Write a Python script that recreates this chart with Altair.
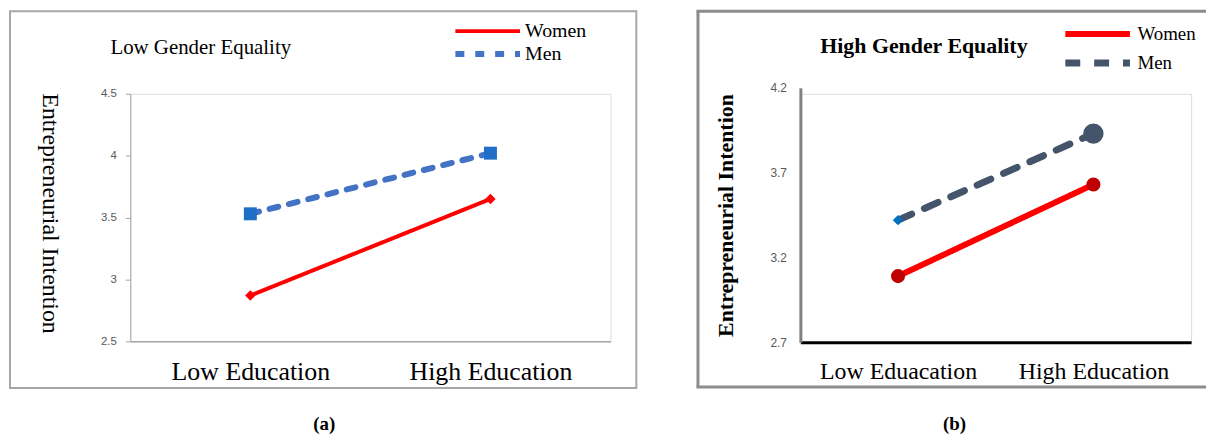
import altair as alt
import pandas as pd

# ---------------- data ----------------
gender = ["Women", "Men"]

edu_a = ["Low Education", "High Education"]
women_a = [2.87, 3.65]
men_a = [3.53, 4.02]
yticks_a = [2.5, 3, 3.5, 4, 4.5]

edu_b = ["Low Eduacation", "High Education"]
women_b = [3.09, 3.63]
men_b = [3.42, 3.93]
yticks_b = [2.7, 3.2, 3.7, 4.2]


def frame(edu, women, men):
    rows = []
    for g, vals in zip(gender, [women, men]):
        for e, v in zip(edu, vals):
            rows.append({"gender": g, "education": e, "value": v})
    return pd.DataFrame(rows)


SERIF = "Liberation Serif"
SANS = "Liberation Sans"
one = alt.Data(values=[{}])
LEG_LINE = "M-6.5,0H6.5"   # legend line symbol (65px long at size 100)


def txt(text, x, y, size, weight="normal", align="left"):
    return alt.Chart(one).mark_text(
        text=text, font=SERIF, fontSize=size, fontWeight=weight,
        align=align, baseline="middle", color="#000000"
    ).encode(x=alt.value(x), y=alt.value(y))


# ---------------- panel (a) ----------------
W_A, H_A = 483, 249
df_a = frame(edu_a, women_a, men_a)

xa = alt.X("education:N", sort=edu_a,
           scale=alt.Scale(type="point", padding=0.5, domain=edu_a),
           axis=alt.Axis(title=None, grid=False, ticks=False, tickSize=0,
                         domainColor="#A6A6A6", domainWidth=1.5,
                         labelFont=SERIF, labelFontSize=26, labelColor="#000000",
                         labelPadding=30, labelBaseline="middle", labelAngle=0))
ya = alt.Y("value:Q", scale=alt.Scale(domain=[2.5, 4.5], nice=False, zero=False),
           axis=alt.Axis(values=yticks_a, format="~g", grid=False, tickSize=5,
                         tickColor="#A6A6A6", domainColor="#A6A6A6",
                         labelFont=SANS, labelFontSize=11.5, labelColor="#595959",
                         labelPadding=9,
                         title="Entrepreneurial Intention", titleFont=SERIF,
                         titleFontSize=24, titleFontWeight="normal",
                         titleColor="#000000", titleAngle=90, titleX=-81,
                         titleY=120, titleAlign="center", titleBaseline="middle"))

leg_a = alt.Legend(title=None, orient="none", legendX=349.5, legendY=-73,
                   symbolType=LEG_LINE, symbolSize=100, symbolStrokeWidth=5,
                   labelFont=SERIF, labelFontSize=20, labelColor="#000000",
                   labelOffset=27.5, rowPadding=1, padding=0)

line_a = alt.Chart(df_a).mark_line(strokeCap="round", strokeJoin="round").encode(
    x=xa, y=ya,
    color=alt.Color("gender:N", scale=alt.Scale(domain=gender, range=["#FF0000", "#4472C4"]), legend=leg_a),
    strokeDash=alt.StrokeDash("gender:N", scale=alt.Scale(domain=gender, range=[[1, 0], [9, 11]]), legend=leg_a),
    strokeWidth=alt.StrokeWidth("gender:N", scale=alt.Scale(domain=gender, range=[4, 6]), legend=None),
)

pts_a_women = alt.Chart(df_a).transform_filter("datum.gender == 'Women'").mark_point(
    filled=True, opacity=1, shape="diamond", size=110, color="#FF0000").encode(x=xa, y=ya)
pts_a_men = alt.Chart(df_a).transform_filter("datum.gender == 'Men'").mark_point(
    filled=True, opacity=1, shape="square", size=170, color="#1F6FC6").encode(x=xa, y=ya)

border_a = alt.Chart(one).mark_rect(filled=False, stroke="#A6A6A6", strokeWidth=2).encode(
    x=alt.value(-121), x2=alt.value(509), y=alt.value(-83), y2=alt.value(296))

panel_a = alt.layer(
    border_a, line_a, pts_a_women, pts_a_men,
    txt("Low Gender Equality", -20, -46, 21),
    txt("(a)", 195, 332, 19, weight="bold", align="center"),
).properties(width=W_A, height=H_A)

# ---------------- panel (b) ----------------
W_B, H_B = 393, 250
df_b = frame(edu_b, women_b, men_b)

xb = alt.X("education:N", sort=edu_b,
           scale=alt.Scale(type="point", padding=0.5, domain=edu_b),
           axis=alt.Axis(title=None, grid=False, ticks=False, tickSize=0,
                         domainColor="#000000", domainWidth=3,
                         labelFont=SERIF, labelFontSize=24, labelColor="#000000",
                         labelPadding=29, labelBaseline="middle", labelAngle=0))
yb = alt.Y("value:Q", scale=alt.Scale(domain=[2.7, 4.2], nice=False, zero=False, range=[H_B, -6]),
           axis=alt.Axis(values=yticks_b, format=".1f", grid=False, ticks=False,
                         tickSize=0, domainColor="#808080", domainWidth=3,
                         labelFont=SANS, labelFontSize=12, labelColor="#595959",
                         labelPadding=14,
                         title="Entrepreneurial Intention", titleFont=SERIF,
                         titleFontSize=22, titleFontWeight="bold",
                         titleColor="#000000", titleAngle=270, titleX=-75,
                         titleY=122, titleAlign="center", titleBaseline="middle"))

leg_b = alt.Legend(title=None, orient="none", legendX=289.5, legendY=-69.5,
                   symbolType=LEG_LINE, symbolSize=100, symbolStrokeWidth=6,
                   labelFont=SERIF, labelFontSize=19, labelColor="#000000",
                   labelOffset=30.5, rowPadding=2, padding=0)

line_b = alt.Chart(df_b).mark_line(strokeCap="round", strokeJoin="round").encode(
    x=xb, y=yb,
    color=alt.Color("gender:N", scale=alt.Scale(domain=gender, range=["#FF0000", "#44546A"]), legend=leg_b),
    strokeDash=alt.StrokeDash("gender:N", scale=alt.Scale(domain=gender, range=[[1, 0], [15, 14]]), legend=leg_b),
    strokeWidth=alt.StrokeWidth("gender:N", scale=alt.Scale(domain=gender, range=[6, 7]), legend=None),
)

pts_b_women = alt.Chart(df_b).transform_filter("datum.gender == 'Women'").mark_point(
    filled=True, opacity=1, shape="circle", size=200, color="#C00000").encode(x=xb, y=yb)

low_b = "datum.education == '%s'" % edu_b[0]
pts_b_men = alt.Chart(df_b).transform_filter("datum.gender == 'Men'").mark_point(
    filled=True, opacity=1).encode(
    x=xb, y=yb,
    shape=alt.condition(low_b, alt.value("diamond"), alt.value("circle")),
    color=alt.condition(low_b, alt.value("#0070C0"), alt.value("#44546A")),
    size=alt.condition(low_b, alt.value(110), alt.value(420)),
)

bcol = "#8C8C8C"
border_b = alt.layer(
    alt.Chart(one).mark_rule(color=bcol, strokeWidth=3).encode(
        x=alt.value(-103), y=alt.value(-83), y2=alt.value(295)),
    alt.Chart(one).mark_rule(color=bcol, strokeWidth=3).encode(
        x=alt.value(-104.5), x2=alt.value(408), y=alt.value(-83)),
    alt.Chart(one).mark_rule(color=bcol, strokeWidth=3).encode(
        x=alt.value(-104.5), x2=alt.value(408), y=alt.value(295)),
)

panel_b = alt.layer(
    border_b, line_b, pts_b_women, pts_b_men,
    txt("High Gender Equality", 20, -48, 22, weight="bold"),
    txt("(b)", 155, 332, 19, weight="bold", align="center"),
).properties(width=W_B, height=H_B)

chart = alt.hconcat(panel_a, panel_b, spacing=56).resolve_scale(
    x="independent", y="independent", color="independent",
    strokeDash="independent", strokeWidth="independent"
).resolve_legend(color="independent", strokeDash="independent").properties(
    padding=0
).configure_view(stroke="transparent").configure(background="white")

chart.save("out.html", embed_options={"renderer": "svg", "actions": False})
